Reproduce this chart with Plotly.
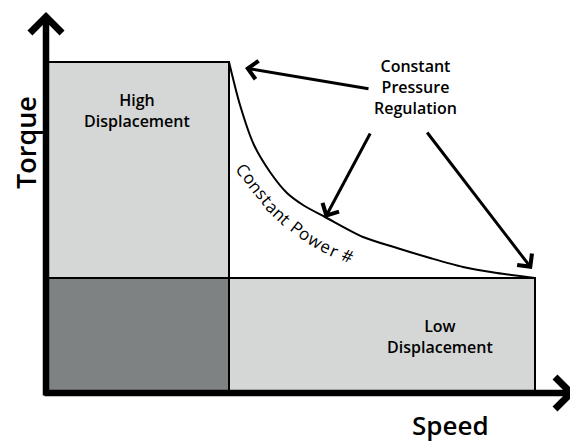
import numpy as np
import plotly.graph_objects as go

# ---- data (speed / torque in drawing units, origin at the axes corner) ----
base_speed = 183
max_speed = 489
max_torque = 331
low_torque = 115

curve_speed = [183, 194, 208, 224, 241, 257, 279, 317, 351, 384, 417, 451, 489]
curve_torque = [331, 288, 248, 221, 200, 188, 176, 156, 145, 135, 126, 120, 115]

region_labels = ["High<br>Displacement", "Low<br>Displacement"]
callout_label = "Constant<br>Pressure<br>Regulation"
curve_label = "Constant Power #"
axis_titles = ["Speed", "Torque"]

LIGHT = "#d5d7d6"
DARK = "#7e8282"
FONT = "Open Sans"

fig = go.Figure()

# constant power curve
fig.add_trace(go.Scatter(
    x=curve_speed, y=curve_torque, mode="lines",
    line=dict(color="black", width=2, shape="spline", smoothing=0.8),
    hoverinfo="skip", showlegend=False))

shapes = [
    dict(type="rect", x0=0, x1=base_speed, y0=low_torque, y1=max_torque,
         fillcolor=LIGHT, line=dict(color="black", width=2), layer="below"),
    dict(type="rect", x0=0, x1=base_speed, y0=0, y1=low_torque,
         fillcolor=DARK, line=dict(color="black", width=2), layer="below"),
    dict(type="rect", x0=base_speed, x1=max_speed, y0=0, y1=low_torque,
         fillcolor=LIGHT, line=dict(color="black", width=2), layer="below"),
]

ann = []
# axes with arrowheads
ann.append(dict(x=530, y=0, ax=-3, ay=0, xref="x", yref="y", axref="x", ayref="y",
                text="", showarrow=True, arrowhead=4, arrowwidth=6.5, arrowsize=0.95,
                arrowcolor="black"))
ann.append(dict(x=0, y=381, ax=0, ay=-4, xref="x", yref="y", axref="x", ayref="y",
                text="", showarrow=True, arrowhead=4, arrowwidth=6.5, arrowsize=0.95,
                arrowcolor="black"))

# callout arrows
arrow_pairs = [((324, 304), (199, 325)),
               ((325, 261), (279, 175)),
               ((380, 262), (486, 124))]
for (tx, ty), (hx, hy) in arrow_pairs:
    ann.append(dict(x=hx, y=hy, ax=tx, ay=ty, xref="x", yref="y", axref="x", ayref="y",
                    text="", showarrow=True, arrowhead=4, arrowwidth=3, arrowsize=1.2,
                    arrowcolor="black"))

lab_font = dict(family=FONT, size=16, color="black", weight=600)
ann.append(dict(x=369, y=306, text=callout_label, showarrow=False, font=lab_font,
                xref="x", yref="y"))
ann.append(dict(x=91, y=283, text=region_labels[0], showarrow=False, font=lab_font,
                xref="x", yref="y"))
ann.append(dict(x=394, y=57, text=region_labels[1], showarrow=False, font=lab_font,
                xref="x", yref="y"))

# curved label: characters placed along a path parallel to the curve
path_sx = np.array([194, 209, 224, 241, 259, 279, 299, 318], float)
path_ty = np.array([228, 208, 189, 173, 159, 147, 138, 131], float)
char_w = {"C": .63, "o": .6, "n": .6, "s": .48, "t": .37, "a": .56, " ": .26,
          "P": .6, "w": .82, "e": .56, "r": .42, "#": .66}
fsize = 17
spacing = 0.4
seg = np.hypot(np.diff(path_sx), np.diff(path_ty))
cum = np.concatenate([[0], np.cumsum(seg)])
pos = 0.0
for ch in curve_label:
    w = char_w.get(ch, .55) * fsize
    c = pos + w / 2
    pos += w + spacing
    if ch == " ":
        continue
    i = min(np.searchsorted(cum, c) - 1, len(seg) - 1)
    i = max(i, 0)
    f = (c - cum[i]) / seg[i]
    cx = path_sx[i] + f * (path_sx[i + 1] - path_sx[i])
    cy = path_ty[i] + f * (path_ty[i + 1] - path_ty[i])
    ang = np.degrees(np.arctan2(-(path_ty[i + 1] - path_ty[i]), path_sx[i + 1] - path_sx[i]))
    ann.append(dict(x=cx, y=cy, text=ch, showarrow=False, textangle=ang,
                    font=dict(family=FONT, size=fsize, color="black", weight=500),
                    xref="x", yref="y", xanchor="center", yanchor="middle"))

title_font = dict(family=FONT, size=26, color="black", weight=600)
ann.append(dict(x=404, y=-32, text=axis_titles[0], showarrow=False, font=title_font,
                xref="x", yref="y", borderpad=0))
ann.append(dict(x=-21, y=250, text=axis_titles[1], showarrow=False,
                font=dict(family=FONT, size=27, color="black", weight=600),
                textangle=-90, xref="x", yref="y"))

# page body has an 8px margin, so the figure covers the reference from (8, 8)
fig.update_layout(
    width=570, height=435,
    margin=dict(l=0, r=0, t=0, b=0),
    paper_bgcolor="white", plot_bgcolor="white",
    xaxis=dict(range=[-38, 532], visible=False, fixedrange=True),
    yaxis=dict(range=[-50, 385], visible=False, fixedrange=True),
    shapes=shapes, annotations=ann, showlegend=False,
)

fig.write_html("out.html", config=dict(displayModeBar=False))
